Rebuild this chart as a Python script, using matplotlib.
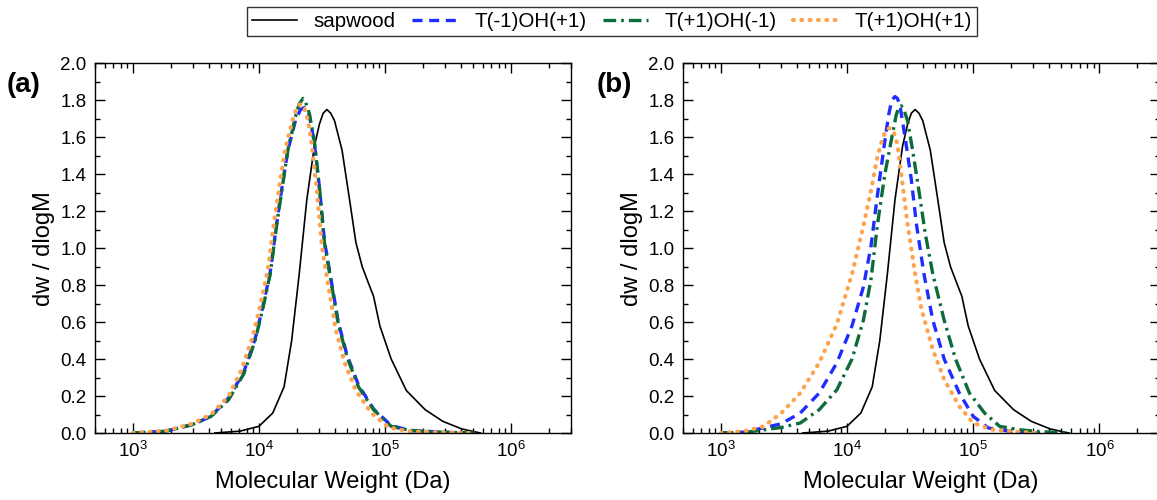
import numpy as np
import matplotlib
matplotlib.use("Agg")
import matplotlib.pyplot as plt
from matplotlib.ticker import LogLocator, MultipleLocator, NullFormatter

plt.rcParams['font.family'] = ['Liberation Sans', 'DejaVu Sans']
plt.rcParams['mathtext.fontset'] = 'custom'
plt.rcParams['mathtext.rm'] = 'Liberation Sans'
plt.rcParams['mathtext.default'] = 'regular'

# sapwood reference (same in both panels), x as log10(M)
sap_logm = [3.65, 3.85, 4.00, 4.11, 4.20, 4.26, 4.32, 4.38, 4.44, 4.48, 4.51, 4.54, 4.57, 4.60,
            4.66, 4.72, 4.77, 4.82, 4.87, 4.91, 4.96, 5.05, 5.17, 5.32, 5.46, 5.61, 5.73, 5.76]
sap_w = [0.0, 0.01, 0.036, 0.108, 0.25, 0.50, 0.86, 1.26, 1.55, 1.67, 1.73, 1.75, 1.73, 1.69,
         1.53, 1.26, 1.03, 0.90, 0.81, 0.74, 0.58, 0.40, 0.23, 0.126, 0.063, 0.022, 0.004, 0.0]

# panel (a)
a_blue_logm = [3.0, 3.26, 3.47, 3.62, 3.76, 3.88, 3.97, 4.03, 4.09, 4.14, 4.19, 4.23, 4.29, 4.33,
               4.36, 4.40, 4.44, 4.48, 4.52, 4.57, 4.63, 4.70, 4.79, 4.91, 5.05, 5.20, 5.46, 5.73]
a_blue_w = [0.0, 0.01, 0.045, 0.09, 0.19, 0.33, 0.51, 0.68, 0.87, 1.13, 1.36, 1.53, 1.69, 1.75,
            1.76, 1.72, 1.57, 1.33, 1.04, 0.84, 0.60, 0.42, 0.26, 0.13, 0.04, 0.014, 0.004, 0.0]
a_green_logm = [3.0, 3.26, 3.47, 3.62, 3.76, 3.88, 3.97, 4.03, 4.09, 4.14, 4.19, 4.23, 4.29, 4.32,
                4.35, 4.37, 4.40, 4.44, 4.48, 4.52, 4.57, 4.63, 4.70, 4.79, 4.91, 5.05, 5.20, 5.46,
                5.73]
a_green_w = [0.0, 0.01, 0.045, 0.09, 0.18, 0.32, 0.50, 0.67, 0.86, 1.12, 1.35, 1.53, 1.71, 1.78,
             1.81, 1.79, 1.73, 1.58, 1.33, 1.03, 0.83, 0.59, 0.41, 0.25, 0.126, 0.036, 0.014, 0.004,
             0.0]
a_orange_logm = [3.0, 3.26, 3.47, 3.62, 3.76, 3.86, 3.95, 4.01, 4.07, 4.12, 4.17, 4.21, 4.27, 4.30,
                 4.33, 4.36, 4.39, 4.42, 4.46, 4.50, 4.55, 4.61, 4.68, 4.77, 4.89, 5.03, 5.18, 5.44,
                 5.70]
a_orange_w = [0.0, 0.012, 0.05, 0.10, 0.20, 0.34, 0.52, 0.69, 0.88, 1.14, 1.37, 1.54, 1.70, 1.76,
              1.78, 1.76, 1.69, 1.56, 1.31, 1.01, 0.80, 0.56, 0.38, 0.23, 0.11, 0.03, 0.01, 0.003,
              0.0]

# panel (b)
b_blue_logm = [3.0, 3.19, 3.48, 3.63, 3.78, 3.92, 4.04, 4.13, 4.19, 4.24, 4.30, 4.33, 4.355, 4.38,
               4.40, 4.42, 4.46, 4.51, 4.55, 4.61, 4.68, 4.77, 4.89, 5.00, 5.12, 5.33, 5.53]
b_blue_w = [0.0, 0.005, 0.05, 0.108, 0.216, 0.38, 0.58, 0.79, 1.01, 1.28, 1.58, 1.72, 1.80, 1.82,
            1.81, 1.77, 1.60, 1.37, 1.13, 0.86, 0.61, 0.40, 0.216, 0.09, 0.027, 0.005, 0.0]
b_green_logm = [3.0, 3.19, 3.48, 3.63, 3.78, 3.92, 4.04, 4.13, 4.19, 4.24, 4.30, 4.35, 4.39, 4.41,
                4.43, 4.45, 4.48, 4.52, 4.57, 4.62, 4.68, 4.77, 4.86, 4.97, 5.09, 5.21, 5.36, 5.50,
                5.73]
b_green_w = [0.0, 0.003, 0.03, 0.054, 0.126, 0.234, 0.40, 0.61, 0.83, 1.12, 1.40, 1.58, 1.72, 1.76,
             1.77, 1.75, 1.69, 1.53, 1.31, 1.08, 0.86, 0.61, 0.40, 0.216, 0.108, 0.036, 0.018, 0.009,
             0.0]
b_orange_logm = [3.0, 3.19, 3.34, 3.48, 3.63, 3.78, 3.92, 4.04, 4.13, 4.19, 4.24, 4.28, 4.31, 4.34,
                 4.37, 4.40, 4.43, 4.48, 4.54, 4.59, 4.68, 4.77, 4.89, 5.00, 5.15, 5.39, 5.53]
b_orange_w = [0.0, 0.01, 0.036, 0.108, 0.216, 0.38, 0.59, 0.86, 1.12, 1.31, 1.49, 1.59, 1.64, 1.65,
              1.63, 1.56, 1.40, 1.13, 0.86, 0.67, 0.45, 0.29, 0.144, 0.054, 0.018, 0.005, 0.0]

labels = ["sapwood", "T(-1)OH(+1)", "T(+1)OH(-1)", "T(+1)OH(+1)"]
c_blue = "#1f2cff"
c_green = "#0b6b3a"
c_orange = "#ffa24d"

fig = plt.figure(figsize=(11.57, 5.0), dpi=100)
ax1 = fig.add_axes([0.0821, 0.134, 0.4114, 0.7394])
ax2 = fig.add_axes([0.5901, 0.134, 0.4122, 0.7394])


def draw(ax, blue, green, orange):
    ax.plot(10 ** np.array(sap_logm), sap_w, color="black", lw=1.2, label=labels[0])
    ax.plot(10 ** np.array(blue[0]), blue[1], color=c_blue, lw=2.4, ls=(0, (3, 2)), label=labels[1])
    ax.plot(10 ** np.array(green[0]), green[1], color=c_green, lw=2.4, ls=(0, (3.8, 1.5, 0.8, 1.5)),
            label=labels[2])
    ax.plot(10 ** np.array(orange[0]), orange[1], color=c_orange, lw=3.0, ls=(0, (0.2, 1.8)),
            dash_capstyle="round", label=labels[3])
    ax.set_xscale("log")
    ax.set_xlim(500, 3.0e6)
    ax.set_ylim(0, 2.0)
    ax.xaxis.set_major_locator(LogLocator(base=10, numticks=10))
    ax.xaxis.set_minor_locator(LogLocator(base=10, subs=np.arange(2, 10), numticks=10))
    ax.xaxis.set_minor_formatter(NullFormatter())
    ax.yaxis.set_major_locator(MultipleLocator(0.2))
    ax.yaxis.set_minor_locator(MultipleLocator(0.1))
    ax.yaxis.set_major_formatter(plt.FormatStrFormatter("%.1f"))
    ax.tick_params(which="both", direction="in", top=True, right=True, labelsize=13.5, width=1.0)
    ax.tick_params(which="major", length=7, pad=6)
    ax.tick_params(which="minor", length=3.5)
    for s in ax.spines.values():
        s.set_linewidth(1.0)
    ax.set_xlabel("Molecular Weight (Da)", fontsize=17, labelpad=7)
    ax.set_ylabel("dw / dlogM", fontsize=17, labelpad=4)


draw(ax1, (a_blue_logm, a_blue_w), (a_green_logm, a_green_w), (a_orange_logm, a_orange_w))
draw(ax2, (b_blue_logm, b_blue_w), (b_green_logm, b_green_w), (b_orange_logm, b_orange_w))

fig.text(0.006, 0.831, "(a)", fontsize=20, fontweight="bold", va="center")
fig.text(0.516, 0.831, "(b)", fontsize=20, fontweight="bold", va="center")

handles, labs = ax1.get_legend_handles_labels()
leg = fig.legend(handles, labs, loc="upper center", bbox_to_anchor=(0.529, 0.986), ncol=4,
                 fontsize=14.8, frameon=True, fancybox=False, edgecolor="black", borderaxespad=0,
                 handlelength=2.2, columnspacing=0.8, borderpad=0.25, handletextpad=0.8)
leg.get_frame().set_linewidth(1.0)

fig.savefig("out.png", dpi=100)
